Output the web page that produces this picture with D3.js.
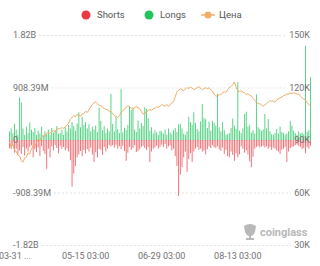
<!DOCTYPE html>
<html>
<head>
<meta charset="utf-8">
<script src="https://cdn.jsdelivr.net/npm/d3@7"></script>
<style>
  body { margin: 0; background: #fff; }
  text { font-family: Roboto, 'Noto Sans', sans-serif; }
</style>
</head>
<body>
<div id="chart"></div>
<script>
(function() {
const width = 320,
      height = 266

// daily liquidations (millions USD) from 03-31, one value a day
const startDay = new Date(2025, 2, 31)
const longs = [
  150,200,120,280,180,90,740,650,200,90,230,120,300,180,140,210,90,160,110,230,70,150,100,180,90,210,130,170,240,110,
  120,180,90,220,150,260,200,310,240,160,290,480,220,400,260,310,200,270,150,230,180,250,140,560,330,170,240,120,200,150,
  800,280,150,400,190,120,880,130,210,170,260,590,520,560,180,140,340,200,290,240,570,540,380,160,220,110,170,130,90,160,
  150,110,180,90,200,130,100,170,210,140,270,280,200,110,90,150,400,310,260,480,300,190,150,320,620,380,360,210,320,160,
  330,300,250,800,220,150,310,170,90,100,120,210,370,250,190,1000,160,120,200,450,490,230,260,130,170,110,790,220,190,160,
  180,450,200,360,150,100,90,120,190,110,230,140,120,90,110,150,330,250,160,120,90,150,110,130,100,1630,140,170,1090
]
const shorts = [
  -140,-160,-100,-220,-150,-250,-180,-240,-120,-270,-150,-200,-120,-90,-300,-160,-210,-130,-280,-110,-190,-240,-500,-150,-300,-110,-180,-90,-140,-230,
  -100,-150,-120,-180,-140,-200,-350,-810,-580,-450,-300,-250,-190,-280,-170,-230,-160,-200,-130,-250,-380,-210,-300,-150,-170,-260,-120,-200,-150,-90,
  -110,-90,-130,-80,-150,-110,-160,-100,-190,-360,-220,-120,-170,-140,-90,-210,-190,-160,-120,-100,-140,-170,-120,-380,-200,-150,-130,-100,-150,-120,
  -80,-120,-70,-150,-110,-90,-180,-150,-280,-450,-970,-600,-470,-300,-200,-550,-330,-230,-380,-200,-150,-120,-170,-150,-200,-180,-250,-160,-110,-140,
  -90,-120,-140,-110,-160,-190,-130,-240,-170,-280,-300,-200,-260,-360,-230,-300,-250,-110,-150,-220,-180,-250,-370,-470,-290,-150,-120,-100,-130,-110,
  -100,-130,-110,-150,-120,-170,-130,-150,-180,-200,-240,-170,-150,-120,-380,-200,-140,-120,-110,-90,-80,-100,-120,-160,-140,-230,-120,-150,-100
]
// price in thousands
const price = [
  88.9,86.2,87.4,84.1,83.5,81.2,80.9,78.1,77.4,79.8,80.2,82.6,82.0,84.9,86.8,85.9,88.7,90.4,89.6,91.9,92.7,92.1,93.8,94.4,93.7,95.0,95.4,94.8,96.1,96.5,
  96.3,97.2,96.5,97.8,98.4,99.6,101.9,102.8,103.9,103.2,104.6,104.1,103.6,104.9,105.2,106.4,105.7,107.3,108.9,110.4,111.2,111.9,110.8,109.6,109.9,108.5,108.1,107.4,107.5,106.2,
  106.3,105.1,104.0,103.6,102.8,103.9,105.7,106.9,107.4,108.9,109.6,109.0,108.3,107.4,108.6,108.9,108.5,107.9,106.3,104.8,105.6,106.1,106.8,107.4,106.9,107.9,108.1,109.0,108.6,109.3,
  110.2,109.7,109.2,110.3,109.1,110.1,111.4,111.9,114.6,117.6,118.4,119.3,118.8,118.2,119.2,119.9,119.5,120.3,119.6,118.9,119.2,119.9,120.4,119.5,118.9,119.3,119.9,119.4,119.8,118.9,
  118.0,116.1,115.0,115.3,115.8,116.1,116.9,117.6,117.2,118.7,119.9,120.5,121.6,123.2,120.1,118.2,117.7,118.1,117.3,116.9,116.0,116.5,115.5,115.2,113.8,112.6,111.8,110.9,110.7,109.9,
  109.2,110.1,110.8,111.6,112.5,112.1,112.4,111.5,112.9,113.5,114.1,114.5,115.3,115.6,116.4,116.1,116.9,116.6,117.0,116.7,116.2,116.4,115.0,114.1,113.3,112.9,111.5,110.2,109.4
]
const leftTicks = [1816.78, 908.39, 0, -908.39, -1816.78]
const leftLabels = ['1.82B', '908.39M', '0', '-908.39M', '-1.82B']
const rightTicks = [150, 120, 90, 60, 30]
const rightLabels = ['150K', '120K', '90K', '60K', '30K']
const xTickIdx = [0, 45, 90, 135]
const xTickLabels = ['03-31 ...', '05-15 03:00', '06-29 03:00', '08-13 03:00']
const legendItems = ['Shorts', 'Longs', 'Цена']

const red = '#ea3a42',
      green = '#22c45e',
      orange = '#f2ad68'

const days = d3.range(longs.length).map(function(i) { return d3.timeDay.offset(startDay, i) })
const data = days.map(function(d, i) {
  return { date: d, long: longs[i], short: shorts[i], price: price[i] }
})

const svg = d3.select('#chart')
  .append('svg')
  .attr('width', width)
  .attr('height', height)

const top = 35, bottom = 245, left = 9, right = 311

const x = d3.scaleBand()
  .domain(days)
  .range([left, right])
  .paddingInner(0.45)

const yL = d3.scaleLinear().domain([-1816.78, 1816.78]).range([bottom, top])
const yR = d3.scaleLinear().domain([30, 150]).range([bottom, top])

// axis labels first so the grid can stop at them
const gridG = svg.append('g')
const bars = svg.append('g')
const labelG = svg.append('g')
  .style('font-size', '9px')
  .attr('fill', '#707070')

leftTicks.forEach(function(t, i) {
  const lt = labelG.append('text')
    .attr('x', 13)
    .attr('y', yL(t))
    .attr('dy', '0.35em')
    .text(leftLabels[i])
  const rt = labelG.append('text')
    .attr('x', 310)
    .attr('y', yR(rightTicks[i]))
    .attr('dy', '0.35em')
    .attr('text-anchor', 'end')
    .text(rightLabels[i])
  const x0 = 13 + lt.node().getComputedTextLength() + 3
  const x1 = 310 - rt.node().getComputedTextLength() - 3
  gridG.append('line')
    .attr('x1', x0).attr('x2', x1)
    .attr('y1', yL(t) + 0.5).attr('y2', yL(t) + 0.5)
    .attr('stroke', '#e3e3e3')
    .attr('stroke-dasharray', '2,2')
})

bars.selectAll('.long')
  .data(data)
  .enter().append('rect')
  .attr('class', 'long')
  .attr('x', function(d) { return x(d.date) })
  .attr('width', x.bandwidth())
  .attr('y', function(d) { return yL(d.long) })
  .attr('height', function(d) { return yL(0) - yL(d.long) })
  .attr('fill', green)
  .attr('fill-opacity', 0.8)

bars.selectAll('.short')
  .data(data)
  .enter().append('rect')
  .attr('class', 'short')
  .attr('x', function(d) { return x(d.date) })
  .attr('width', x.bandwidth())
  .attr('y', yL(0))
  .attr('height', function(d) { return yL(d.short) - yL(0) })
  .attr('fill', red)
  .attr('fill-opacity', 0.75)

const line = d3.line()
  .x(function(d) { return x(d.date) + x.bandwidth() / 2 })
  .y(function(d) { return yR(d.price) })

bars.append('path')
  .datum(data)
  .attr('d', line)
  .attr('fill', 'none')
  .attr('stroke', orange)
  .attr('stroke-width', 1)

// x labels
const xl = svg.append('g')
  .style('font-size', '9px')
  .attr('fill', '#707070')
xTickIdx.forEach(function(idx, i) {
  const cx = x(days[idx]) + x.bandwidth() / 2
  xl.append('text')
    .attr('x', i === 0 ? -1 : cx)
    .attr('y', 256)
    .attr('dy', '0.35em')
    .attr('text-anchor', i === 0 ? 'start' : 'middle')
    .text(xTickLabels[i])
})

// legend
const legend = svg.append('g')
  .style('font-size', '9.5px')
  .attr('fill', '#555')
const lx = [86, 149, 208]
const lc = [red, green, orange]
legendItems.forEach(function(name, i) {
  if (i < 2) {
    legend.append('circle')
      .attr('cx', lx[i]).attr('cy', 15).attr('r', 4.5)
      .attr('fill', lc[i])
  } else {
    legend.append('line')
      .attr('x1', lx[i] - 7).attr('x2', lx[i] + 7)
      .attr('y1', 15).attr('y2', 15)
      .attr('stroke', orange).attr('stroke-width', 1.5)
    legend.append('circle')
      .attr('cx', lx[i]).attr('cy', 15).attr('r', 3.5)
      .attr('fill', orange)
  }
  legend.append('text')
    .attr('x', lx[i] + 11)
    .attr('y', 15)
    .attr('dy', '0.35em')
    .text(name)
})

// watermark
const wm = svg.append('g').attr('fill', '#b8b8b8')
wm.append('path')
  .attr('d', 'M244,226 Q250,222 256,226 L255,232 Q254,235 251,236 L251,238 L254,238 L254,240 L246,240 L246,238 L249,238 L249,236 Q246,235 245,232 Z')
wm.append('text')
  .attr('x', 260)
  .attr('y', 232)
  .attr('dy', '0.35em')
  .style('font-size', '11px')
  .style('font-weight', 'bold')
  .text('coinglass')

})()
</script>
</body>
</html>
